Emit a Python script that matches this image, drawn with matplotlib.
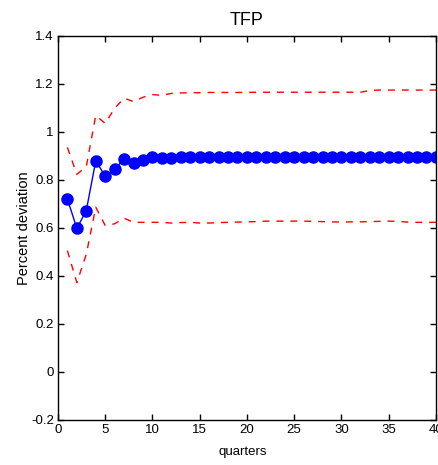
import numpy as np
import matplotlib
matplotlib.use('Agg')
from matplotlib import pyplot as plt

plt.rcParams['font.family'] = ['Liberation Sans', 'DejaVu Sans']
plt.rcParams['axes.unicode_minus'] = False

quarters = np.arange(1, 41)

# impulse response of TFP (median) and error bands
tfp_irf = [0.720, 0.598, 0.672, 0.879, 0.816, 0.844, 0.887, 0.870, 0.884, 0.894,
           0.890, 0.890, 0.895, 0.896, 0.896, 0.896, 0.896, 0.895, 0.894, 0.894,
           0.896, 0.897, 0.897, 0.897, 0.897, 0.897, 0.897, 0.897, 0.897, 0.897,
           0.897, 0.897, 0.897, 0.897, 0.897, 0.897, 0.897, 0.897, 0.897, 0.897]
upper_band = [0.935, 0.823, 0.855, 1.068, 1.035, 1.098, 1.140, 1.126, 1.144, 1.155,
              1.152, 1.160, 1.162, 1.163, 1.163, 1.164, 1.164, 1.164, 1.164, 1.164,
              1.165, 1.165, 1.165, 1.165, 1.165, 1.165, 1.165, 1.165, 1.165, 1.165,
              1.165, 1.165, 1.172, 1.174, 1.174, 1.174, 1.174, 1.174, 1.174, 1.174]
lower_band = [0.505, 0.372, 0.490, 0.686, 0.610, 0.617, 0.640, 0.623, 0.623, 0.623,
              0.623, 0.620, 0.622, 0.623, 0.620, 0.620, 0.622, 0.623, 0.624, 0.625,
              0.626, 0.628, 0.628, 0.628, 0.628, 0.628, 0.627, 0.626, 0.625, 0.624,
              0.625, 0.625, 0.626, 0.627, 0.628, 0.627, 0.624, 0.623, 0.623, 0.623]

fig = plt.figure(figsize=(4.39, 4.65), dpi=100)
ax = fig.add_axes([0.132, 0.097, 0.861, 0.826])

ax.plot(quarters, upper_band, color='red', linestyle=(0, (5, 5)), linewidth=1.0)
ax.plot(quarters, lower_band, color='red', linestyle=(0, (5, 5)), linewidth=1.0)
ax.plot(quarters, tfp_irf, color='blue', linewidth=1.0, marker='o',
        markersize=8, markerfacecolor='blue', markeredgecolor='blue')

ax.set_xlim(0, 40)
ax.set_ylim(-0.2, 1.4)
ax.set_xticks(np.arange(0, 41, 5))
ax.set_yticks(np.arange(-0.2, 1.41, 0.2))
ax.set_yticklabels(['-0.2', '0', '0.2', '0.4', '0.6', '0.8', '1', '1.2', '1.4'])
ax.tick_params(direction='in', top=True, right=True, labelsize=9.5, length=4,
               width=1, pad=3)
for s in ax.spines.values():
    s.set_linewidth(1.0)

ax.set_title('TFP', fontsize=13, pad=8)
ax.set_xlabel('quarters', fontsize=9.5)
ax.xaxis.set_label_coords(0.49, -0.083)
ax.xaxis.label.set_va('center')
ax.set_ylabel('Percent deviation', fontsize=10.5)
ax.yaxis.set_label_coords(-0.09, 0.5)
ax.yaxis.label.set_va('center')

fig.savefig('out.png', dpi=100)
